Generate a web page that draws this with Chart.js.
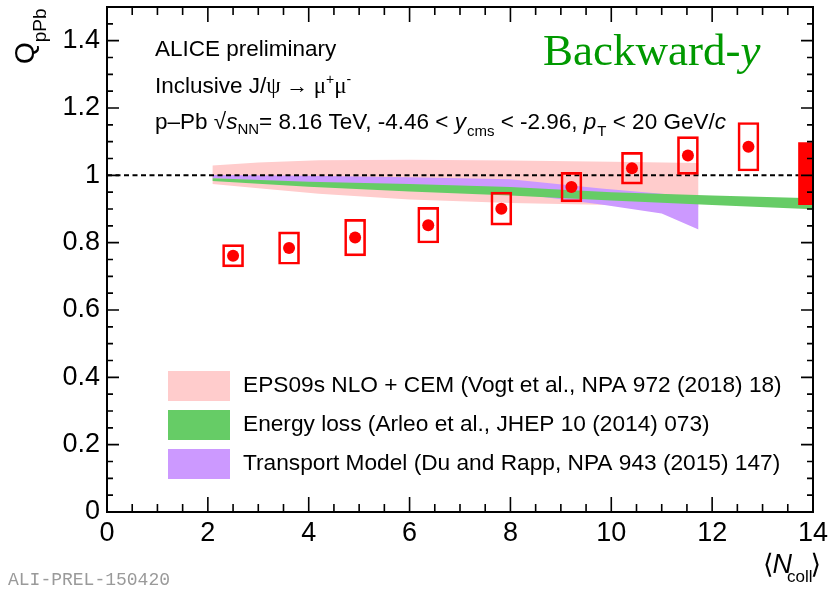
<!DOCTYPE html>
<html>
<head>
<meta charset="utf-8">
<title>QpPb vs Ncoll</title>
<script src="https://cdn.jsdelivr.net/npm/chart.js@4.4.1/dist/chart.umd.min.js"></script>
<style>
  html, body { margin: 0; padding: 0; background: #fff; }
  #wrap { width: 828px; height: 590px; }
</style>
</head>
<body>
<div id="wrap"><canvas id="qpPbChart" width="828" height="590"></canvas></div>
<script>
// J/psi QpPb as a function of <Ncoll>, backward rapidity
const nColl = [2.50, 3.61, 4.92, 6.37, 7.82, 9.21, 10.41, 11.52, 12.72];
const qpPb = [0.761, 0.784, 0.815, 0.852, 0.901, 0.965, 1.021, 1.059, 1.085];
const qpPbSyst = [0.033, 0.048, 0.054, 0.053, 0.049, 0.044, 0.047, 0.056, 0.072];
const globalSyst = [0.913, 1.097];

// model bands: x, lower and upper edge
const epsX = [2.09, 3.0, 4.2, 6.0, 8.0, 10.0, 11.73];
const epsLow = [0.974, 0.962, 0.945, 0.928, 0.918, 0.912, 0.906];
const epsHigh = [1.029, 1.038, 1.045, 1.046, 1.044, 1.040, 1.037];

const elossX = [2.09, 4.0, 6.0, 8.0, 10.0, 12.0, 14.0];
const elossLow = [0.983, 0.966, 0.952, 0.940, 0.925, 0.912, 0.899];
const elossHigh = [0.991, 0.981, 0.974, 0.965, 0.950, 0.940, 0.932];

const transpX = [2.09, 4.0, 6.0, 8.0, 9.8, 11.0, 11.73];
const transpLow = [0.991, 0.978, 0.963, 0.948, 0.913, 0.887, 0.839];
const transpHigh = [1.001, 0.999, 0.994, 0.988, 0.961, 0.945, 0.935];

const xTickLabels = [0, 2, 4, 6, 8, 10, 12, 14];
const yTickLabels = [0, 0.2, 0.4, 0.6, 0.8, 1, 1.2, 1.4];

const SANS = '"Liberation Sans", Arial, Helvetica, sans-serif';
const SERIF = '"Liberation Serif", "Times New Roman", serif';

const pts = (xs, ys) => xs.map((x, i) => ({ x, y: ys[i] }));

// upper edge fills down to the lower edge (next dataset)
function band(label, legendRow, xs, lo, hi, color) {
  return [
    { type: 'line', label, legendRow, data: pts(xs, hi), fill: '+1', backgroundColor: color,
      borderColor: 'transparent', borderWidth: 0, pointRadius: 0, tension: 0 },
    { type: 'line', label: label + ' low', data: pts(xs, lo), fill: false,
      borderColor: 'transparent', borderWidth: 0, pointRadius: 0, tension: 0 }
  ];
}

// text drawn piece by piece so sub/superscripts and italics can be mixed
function measureRuns(ctx, runs) {
  let w = 0;
  for (const r of runs) {
    ctx.font = r.font;
    w += ctx.measureText(r.t).width + (r.gap || 0);
  }
  return w;
}
function drawRuns(ctx, x, y, runs) {
  for (const r of runs) {
    ctx.font = r.font;
    ctx.fillText(r.t, x, y + (r.dy || 0));
    x += ctx.measureText(r.t).width + (r.gap || 0);
  }
  return x;
}

// keep the plot frame fixed: no extra room for half-labels at the ends
function fixAxis(size) {
  return s => {
    if (s.isHorizontal()) s.height = size; else s.width = size;
    s.paddingTop = 0; s.paddingBottom = 0;
    s.paddingLeft = 0; s.paddingRight = 0;
  };
}

const frameAndTicks = {
  id: 'frameAndTicks',
  afterDatasetsDraw(chart) {
    const { ctx, chartArea: a, scales: { x, y } } = chart;
    ctx.save();
    ctx.strokeStyle = '#000';
    ctx.lineWidth = 1.6;
    ctx.beginPath();
    for (let i = 0; i <= 28; i++) {
      const px = x.getPixelForValue(i * 0.5);
      const len = i % 4 === 0 ? 15 : 8;
      ctx.moveTo(px, a.bottom); ctx.lineTo(px, a.bottom - len);
      ctx.moveTo(px, a.top); ctx.lineTo(px, a.top + len);
    }
    for (let i = 0; i <= 30; i++) {
      const py = y.getPixelForValue(i * 0.05);
      const len = i % 4 === 0 ? 12 : 6;
      ctx.moveTo(a.left, py); ctx.lineTo(a.left + len, py);
      ctx.moveTo(a.right, py); ctx.lineTo(a.right - len, py);
    }
    ctx.stroke();
    ctx.lineWidth = 2;
    ctx.strokeRect(a.left, a.top, a.right - a.left, a.bottom - a.top);
    ctx.restore();
  }
};

const modelLegend = {
  id: 'modelLegend',
  afterDraw(chart) {
    const { ctx } = chart;
    const items = chart.data.datasets
      .filter(d => d.legendRow !== undefined)
      .sort((p, q) => p.legendRow - q.legendRow);
    ctx.save();
    ctx.textBaseline = 'middle';
    items.forEach((d, i) => {
      const cy = 386 + i * 39;
      ctx.fillStyle = d.backgroundColor;
      ctx.fillRect(168, cy - 15, 62, 30);
      ctx.fillStyle = '#000';
      ctx.font = '22.7px ' + SANS;
      ctx.fillText(d.label, 243, cy);
    });
    ctx.restore();
  }
};

const labels = {
  id: 'labels',
  afterDraw(chart) {
    const { ctx } = chart;
    const f = (s, style) => (style || '') + ' ' + s + 'px ' + SANS;
    ctx.save();
    ctx.fillStyle = '#000';
    ctx.textBaseline = 'alphabetic';

    drawRuns(ctx, 155, 56, [{ t: 'ALICE preliminary', font: f(22.5) }]);
    drawRuns(ctx, 155, 93, [
      { t: 'Inclusive J/', font: f(22.5) },
      { t: 'ψ', font: '23px ' + SERIF },
      { t: ' → ', font: '22px ' + SERIF },
      { t: 'μ', font: '23px ' + SERIF },
      { t: '+', font: f(14), dy: -9 },
      { t: 'μ', font: '23px ' + SERIF },
      { t: '-', font: f(14), dy: -9 }
    ]);
    drawRuns(ctx, 155, 129, [
      { t: 'p–Pb ', font: f(22.5) },
      { t: '√', font: f(22.5) },
      { t: 's', font: f(22.5, 'italic') },
      { t: 'NN', font: f(15), dy: 5 },
      { t: '= 8.16 TeV, -4.46 < ', font: f(22.5) },
      { t: 'y', font: f(22.5, 'italic'), gap: 1 },
      { t: 'cms', font: f(15), dy: 7 },
      { t: ' < -2.96, ', font: f(22.5) },
      { t: 'p', font: f(22.5, 'italic'), gap: 1 },
      { t: 'T', font: f(15), dy: 7 },
      { t: ' < 20 GeV/', font: f(22.5) },
      { t: 'c', font: f(22.5, 'italic') }
    ]);

    ctx.fillStyle = '#009900';
    drawRuns(ctx, 543, 65, [
      { t: 'Backward-', font: '45px ' + SERIF },
      { t: 'y', font: 'italic 45px ' + SERIF }
    ]);

    // y axis title, rotated
    ctx.fillStyle = '#000';
    ctx.save();
    ctx.translate(34, 64);
    ctx.rotate(-Math.PI / 2);
    drawRuns(ctx, 0, 0, [
      { t: 'Q', font: f(28) },
      { t: 'pPb', font: f(19), dy: 12 }
    ]);
    ctx.restore();

    // x axis title, right aligned under the axis end
    const xTitle = [
      { t: '⟨', font: '27px "DejaVu Sans", sans-serif', gap: -1 },
      { t: 'N', font: f(27, 'italic'), gap: -5 },
      { t: 'coll', font: f(17), dy: 9, gap: -2 },
      { t: '⟩', font: '27px "DejaVu Sans", sans-serif' }
    ];
    drawRuns(ctx, 821 - measureRuns(ctx, xTitle), 573, xTitle);

    ctx.fillStyle = '#9a9a9a';
    drawRuns(ctx, 8, 585, [{ t: 'ALI-PREL-150420', font: '18px "Liberation Mono", "DejaVu Sans Mono", monospace' }]);
    ctx.restore();
  }
};

const ctx = document.getElementById('qpPbChart').getContext('2d');

const chart = new Chart(ctx, {
  type: 'scatter',
  data: {
    datasets: [
      {
        type: 'scatter', label: 'data',
        data: pts(nColl, qpPb),
        backgroundColor: '#ff0000', borderWidth: 0, pointRadius: 6, pointHoverRadius: 6
      },
      {
        type: 'bar', label: 'syst',
        data: nColl.map((x, i) => ({ x, y: [qpPb[i] - qpPbSyst[i], qpPb[i] + qpPbSyst[i]] })),
        backgroundColor: 'transparent', borderColor: '#ff0000', borderWidth: 2,
        borderSkipped: false, barThickness: 21, grouped: false
      },
      {
        type: 'bar', label: 'global',
        data: [{ x: 14, y: globalSyst }],
        backgroundColor: '#ff0000', borderWidth: 0, barThickness: 29, grouped: false, clip: 0
      },
      {
        type: 'line', label: 'unity',
        data: [{ x: 0, y: 1 }, { x: 13.72, y: 1 }],
        borderColor: '#000', borderWidth: 2, borderDash: [5, 3.5], pointRadius: 0, fill: false
      },
      ...band('Energy loss (Arleo et al., JHEP 10 (2014) 073)', 1, elossX, elossLow, elossHigh, '#66cc66'),
      ...band('Transport Model (Du and Rapp, NPA 943 (2015) 147)', 2, transpX, transpLow, transpHigh, '#cc99ff'),
      ...band('EPS09s NLO + CEM (Vogt et al., NPA 972 (2018) 18)', 0, epsX, epsLow, epsHigh, '#ffcccc')
    ]
  },
  options: {
    responsive: false,
    animation: false,
    layout: { padding: { left: 0, right: 15, top: 7, bottom: 0 } },
    scales: {
      x: {
        type: 'linear', min: 0, max: 14, offset: false,
        grid: { display: false, drawTicks: false, offset: false },
        border: { display: false },
        afterBuildTicks: s => { s.ticks = xTickLabels.map(v => ({ value: v })); },
        ticks: {
          callback: v => String(v),
          font: { family: SANS, size: 27 }, color: '#000',
          padding: 5, maxRotation: 0, autoSkip: false
        },
        afterFit: fixAxis(78)
      },
      y: {
        type: 'linear', min: 0, max: 1.5,
        grid: { display: false, drawTicks: false },
        border: { display: false },
        afterBuildTicks: s => { s.ticks = yTickLabels.map(v => ({ value: v })); },
        ticks: {
          callback: v => String(v),
          font: { family: SANS, size: 27 }, color: '#000',
          padding: 7, autoSkip: false
        },
        afterFit: fixAxis(107)
      }
    },
    plugins: {
      legend: { display: false },
      tooltip: { enabled: false }
    }
  },
  plugins: [frameAndTicks, modelLegend, labels]
});
</script>
</body>
</html>
